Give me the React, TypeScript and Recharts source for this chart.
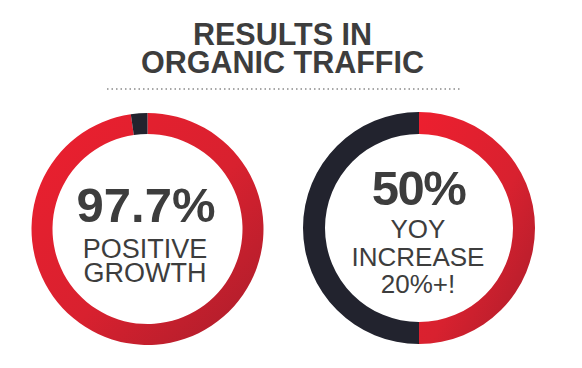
import { PieChart, Pie, Cell } from "recharts"

// values read from the infographic
const titleLines = ["RESULTS IN", "ORGANIC TRAFFIC"]

const growthNames = ["Positive growth", "Rest"]
const growthValues = [97.7, 2.3]
const growthLines = ["97.7%", "POSITIVE", "GROWTH"]

const yoyNames = ["YOY increase", "Rest"]
const yoyValues = [50, 50]
const yoyLines = ["50%", "YOY", "INCREASE", "20%+!"]

const growthData = growthNames.map((name, i) => ({ name, value: growthValues[i] }))
const yoyData = yoyNames.map((name, i) => ({ name, value: yoyValues[i] }))

const RED = "url(#redFill)"
const DARK = "#22232e"
const TEXT = "#3d3d3d"
const FONT = "'Liberation Sans', Arial, Helvetica, sans-serif"

export default function App() {
  return (
    <div style={{ position: "absolute", left: 0, top: 0, background: "#fff" }}>
      <PieChart width={582} height={368} margin={{ top: 0, right: 0, bottom: 0, left: 0 }}>
        <defs>
          <linearGradient id="redFill" x1="0" y1="0" x2="1" y2="1">
            <stop offset="0%" stopColor="#ed1f2f" />
            <stop offset="55%" stopColor="#d8212f" />
            <stop offset="100%" stopColor="#a91d2b" />
          </linearGradient>
        </defs>

        <text x={282.5} y={45} textAnchor="middle" fontFamily={FONT} fontWeight="bold" fontSize={30.5} fill={TEXT}>
          {titleLines[0]}
        </text>
        <text x={282.5} y={73} textAnchor="middle" fontFamily={FONT} fontWeight="bold" fontSize={30.5} fill={TEXT}>
          {titleLines[1]}
        </text>
        <line x1={107} y1={89} x2={460} y2={89} stroke="#8a8a8a" strokeWidth={1.5} strokeDasharray="1.5 3" />

        <Pie
          data={growthData}
          dataKey="value"
          cx={147.5}
          cy={229}
          innerRadius={95}
          outerRadius={116}
          startAngle={90}
          endAngle={-270}
          stroke="none"
          isAnimationActive={false}
        >
          <Cell fill={RED} />
          <Cell fill={DARK} />
        </Pie>

        <Pie
          data={yoyData}
          dataKey="value"
          cx={419}
          cy={228}
          innerRadius={94}
          outerRadius={116}
          startAngle={90}
          endAngle={-270}
          stroke="none"
          isAnimationActive={false}
        >
          <Cell fill={RED} />
          <Cell fill={DARK} />
        </Pie>

        <text x={146} y={222} textAnchor="middle" fontFamily={FONT} fontWeight="bold" fontSize={49} fill={TEXT}>
          {growthLines[0]}
        </text>
        <text x={145} y={258} textAnchor="middle" fontFamily={FONT} fontSize={27} fill={TEXT}>
          {growthLines[1]}
        </text>
        <text x={145} y={282} textAnchor="middle" fontFamily={FONT} fontSize={27} fill={TEXT}>
          {growthLines[2]}
        </text>

        <text x={418.5} y={205} textAnchor="middle" fontFamily={FONT} fontWeight="bold" fontSize={49} letterSpacing={-1.5} fill={TEXT}>
          {yoyLines[0]}
        </text>
        <text x={418} y={238} textAnchor="middle" fontFamily={FONT} fontSize={26} fill={TEXT}>
          {yoyLines[1]}
        </text>
        <text x={418} y={266} textAnchor="middle" fontFamily={FONT} fontSize={26} fill={TEXT}>
          {yoyLines[2]}
        </text>
        <text x={418} y={293} textAnchor="middle" fontFamily={FONT} fontSize={26} fill={TEXT}>
          {yoyLines[3]}
        </text>
      </PieChart>
    </div>
  )
}
